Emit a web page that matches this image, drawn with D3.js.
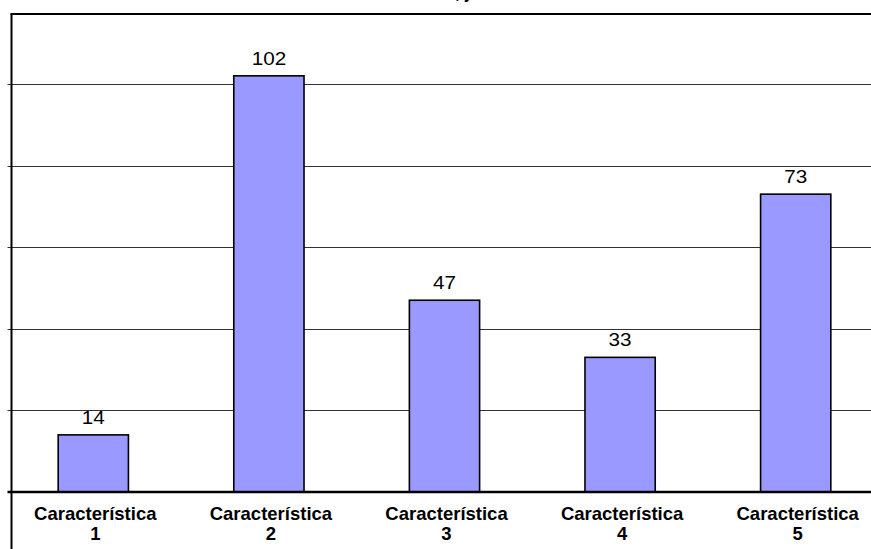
<!DOCTYPE html>
<html>
<head>
<meta charset="utf-8">
<script src="https://cdn.jsdelivr.net/npm/d3@7/dist/d3.min.js"></script>
<style>
  html, body { margin: 0; padding: 0; background: #fff; }
  svg { display: block; }
  text { font-family: Arial, "Liberation Sans", sans-serif; }
</style>
</head>
<body>
<svg id="chart" width="871" height="549"></svg>
<script>
// Chart data
const categories = ["Característica 1", "Característica 2", "Característica 3", "Característica 4", "Característica 5"];
const values = [14, 102, 47, 33, 73];
const gridTicks = [20, 40, 60, 80, 100];
const titleText = "Total de características, junio";

const svg = d3.select("#chart");
const W = 871, H = 549;

const axisX = 11.5;      // left axis line
const frameTop = 14;     // top border of the chart frame
const baseY = 492;       // category axis baseline

const x = d3.scaleBand()
  .domain(categories)
  .range([5.5, 883.5])
  .paddingInner(0.6)
  .paddingOuter(0.3);

const y = d3.scaleLinear()
  .domain([0, 100])
  .range([baseY, 84]);

// Title, sitting above the top edge so only its descenders show
const title = svg.append("text")
  .attr("y", -2.5)
  .attr("font-size", 18)
  .attr("font-weight", "bold")
  .text(titleText);
const commaIdx = titleText.indexOf(",");
const leadW = title.node().getSubStringLength(0, commaIdx);
title.attr("x", 455 - leadW);

// Gridlines with short tick marks left of the axis
svg.append("g")
  .selectAll("line")
  .data(gridTicks)
  .join("line")
  .attr("x1", axisX - 4)
  .attr("x2", W)
  .attr("y1", d => Math.round(y(d)) + 0.5)
  .attr("y2", d => Math.round(y(d)) + 0.5)
  .attr("stroke", "#333")
  .attr("stroke-width", 1);

// Bars
svg.append("g")
  .selectAll("rect")
  .data(values)
  .join("rect")
  .attr("x", (d, i) => x(categories[i]))
  .attr("width", x.bandwidth())
  .attr("y", d => y(d))
  .attr("height", d => baseY - y(d))
  .attr("fill", "#9999FF")
  .attr("stroke", "#000")
  .attr("stroke-width", 1.6);

// Value labels
svg.append("g")
  .selectAll("text")
  .data(values)
  .join("text")
  .attr("text-anchor", "middle")
  .attr("font-size", 18)
  .attr("transform", (d, i) => `translate(${x(categories[i]) + x.bandwidth() / 2},${y(d) - 11}) scale(1.15,1)`)
  .text(d => d);

// Frame: top border, left axis, baseline
svg.append("line")
  .attr("x1", axisX - 1).attr("x2", W)
  .attr("y1", frameTop).attr("y2", frameTop)
  .attr("stroke", "#000").attr("stroke-width", 2);
svg.append("line")
  .attr("x1", axisX).attr("x2", axisX)
  .attr("y1", frameTop).attr("y2", H)
  .attr("stroke", "#000").attr("stroke-width", 2);
svg.append("line")
  .attr("x1", axisX - 4).attr("x2", W)
  .attr("y1", baseY).attr("y2", baseY)
  .attr("stroke", "#000").attr("stroke-width", 2.5);

// Category labels on two lines
const catG = svg.append("g")
  .selectAll("text")
  .data(categories)
  .join("text")
  .attr("text-anchor", "middle")
  .attr("font-size", 18.5)
  .attr("font-weight", "bold")
  .attr("transform", d => `translate(${x(d) + x.bandwidth() / 2 + 2},0)`);
catG.each(function(d) {
  const parts = d.split(" ");
  const t = d3.select(this);
  t.append("tspan").attr("x", 0).attr("y", 520).text(parts[0]);
  t.append("tspan").attr("x", 0).attr("y", 540).text(parts[1]);
});
</script>
</body>
</html>
